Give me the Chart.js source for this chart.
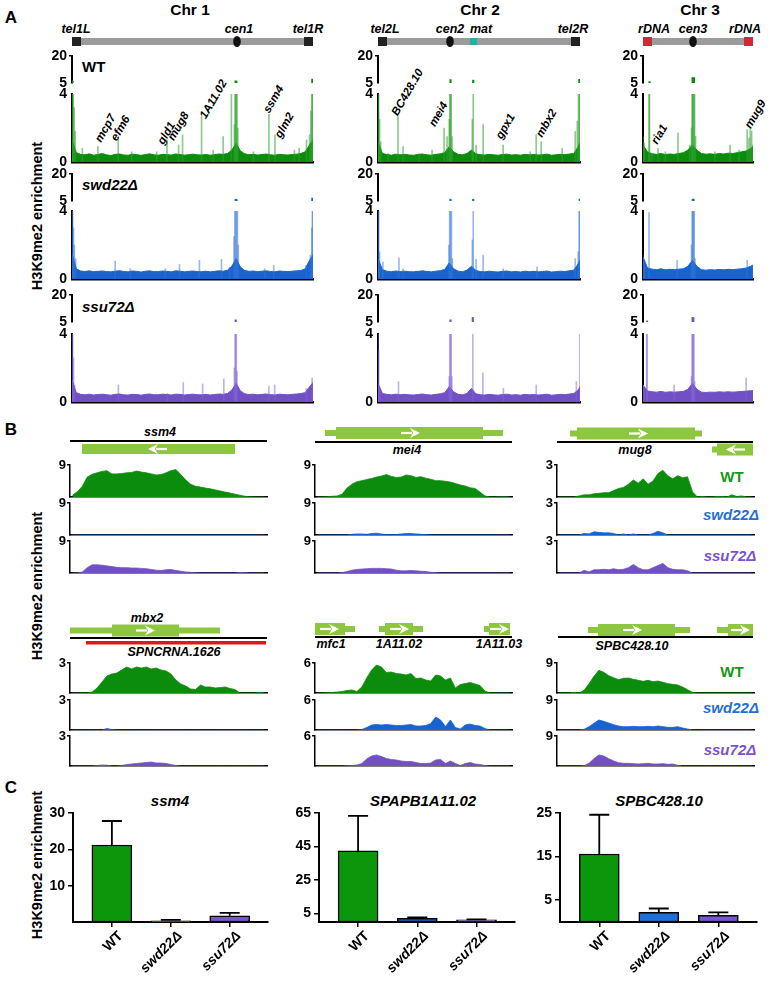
<!DOCTYPE html>
<html lang="en">
<head>
  <meta charset="UTF-8">
  <title>H3K9me2 enrichment in WT, swd22Δ and ssu72Δ</title>
  <script src="https://cdn.jsdelivr.net/npm/chart.js"></script>
  <style>
    body { margin: 0; background: #fff; }
    #page { position: relative; width: 772px; height: 981px; overflow: hidden; background: #fff; }
    #page canvas { position: absolute; }
    #overlay { position: absolute; left: 0; top: 0; }
    #overlay text { font-family: 'Liberation Sans', Arial, sans-serif; font-weight: bold; }
  </style>
</head>
<body>
  <div id="page">
    <svg id="overlay" width="772" height="981"></svg>
  </div>

  <script>
    // ---------- A: genome-wide ChIP-chip tracks ----------
    const chromNames = ['Chr 1', 'Chr 2', 'Chr 3'];
    const chromLengthKb = [5580, 4540, 2450];
    const BIN_KB = 100; // baseline arrays: one value every 100 kb

    const wtChr1Base = [1.3, 0.55, 0.45, 0.42, 0.48, 0.4, 0.44, 0.5, 0.42, 0.38, 0.45, 0.47, 0.41, 0.4, 0.46, 0.43, 0.39, 0.44, 0.48, 0.42, 0.4, 0.45, 0.43, 0.41, 0.47, 0.44, 0.4, 0.43, 0.46, 0.42, 0.41, 0.44, 0.4, 0.43, 0.47, 0.45, 0.5, 0.7, 1.1, 0.65, 0.48, 0.43, 0.45, 0.41, 0.44, 0.47, 0.42, 0.4, 0.45, 0.43, 0.41, 0.44, 0.46, 0.5, 0.6, 1.0, 1.4];
    const wtChr2Base = [1.2, 0.5, 0.44, 0.4, 0.46, 0.42, 0.45, 0.41, 0.4, 0.44, 0.47, 0.42, 0.4, 0.45, 0.48, 0.55, 0.9, 0.6, 0.45, 0.42, 0.5, 0.7, 0.48, 0.43, 0.41, 0.45, 0.42, 0.4, 0.44, 0.46, 0.41, 0.43, 0.4, 0.45, 0.42, 0.44, 0.41, 0.43, 0.46, 0.4, 0.42, 0.45, 0.43, 0.47, 0.5, 0.9, 1.5];
    const wtChr3Base = [1.0, 0.6, 0.48, 0.45, 0.5, 0.44, 0.47, 0.45, 0.5, 0.55, 0.7, 1.0, 0.7, 0.5, 0.46, 0.48, 0.45, 0.5, 0.47, 0.52, 0.5, 0.55, 0.6, 0.65, 0.8, 1.0];
    const swdChr1Base = [1.5, 0.6, 0.47, 0.44, 0.48, 0.43, 0.45, 0.47, 0.44, 0.42, 0.46, 0.49, 0.44, 0.42, 0.47, 0.45, 0.41, 0.46, 0.48, 0.43, 0.44, 0.47, 0.45, 0.42, 0.48, 0.46, 0.42, 0.45, 0.47, 0.44, 0.43, 0.46, 0.42, 0.45, 0.48, 0.46, 0.52, 0.75, 1.2, 0.7, 0.5, 0.45, 0.47, 0.43, 0.46, 0.48, 0.44, 0.42, 0.47, 0.45, 0.43, 0.46, 0.48, 0.5, 0.6, 1.1, 1.5];
    const swdChr2Base = [1.2, 0.55, 0.46, 0.43, 0.47, 0.44, 0.46, 0.43, 0.42, 0.45, 0.48, 0.44, 0.42, 0.46, 0.49, 0.56, 0.95, 0.6, 0.46, 0.43, 0.52, 0.75, 0.5, 0.44, 0.42, 0.46, 0.43, 0.41, 0.45, 0.47, 0.42, 0.44, 0.41, 0.46, 0.43, 0.45, 0.42, 0.44, 0.47, 0.41, 0.43, 0.46, 0.44, 0.48, 0.52, 0.9, 1.4];
    const swdChr3Base = [1.3, 0.65, 0.58, 0.55, 0.6, 0.54, 0.57, 0.55, 0.58, 0.6, 0.75, 1.1, 0.75, 0.55, 0.52, 0.55, 0.53, 0.56, 0.54, 0.57, 0.55, 0.58, 0.6, 0.65, 0.75, 0.9];
    const ssuChr1Base = [1.3, 0.55, 0.45, 0.42, 0.46, 0.41, 0.44, 0.46, 0.43, 0.4, 0.45, 0.47, 0.42, 0.41, 0.45, 0.44, 0.4, 0.45, 0.47, 0.42, 0.43, 0.46, 0.44, 0.41, 0.46, 0.45, 0.41, 0.44, 0.46, 0.43, 0.42, 0.45, 0.41, 0.44, 0.47, 0.45, 0.5, 0.7, 1.1, 0.65, 0.48, 0.44, 0.46, 0.42, 0.45, 0.47, 0.43, 0.41, 0.46, 0.44, 0.42, 0.45, 0.47, 0.5, 0.55, 0.9, 1.2];
    const ssuChr2Base = [1.1, 0.5, 0.45, 0.42, 0.46, 0.43, 0.45, 0.42, 0.41, 0.44, 0.47, 0.43, 0.41, 0.45, 0.48, 0.55, 0.9, 0.6, 0.45, 0.42, 0.5, 0.8, 0.48, 0.43, 0.41, 0.45, 0.42, 0.4, 0.44, 0.46, 0.41, 0.43, 0.4, 0.45, 0.42, 0.44, 0.41, 0.43, 0.46, 0.4, 0.42, 0.45, 0.43, 0.47, 0.5, 0.7, 1.2];
    const ssuChr3Base = [1.0, 0.65, 0.6, 0.58, 0.62, 0.57, 0.6, 0.58, 0.6, 0.62, 0.75, 1.1, 0.75, 0.58, 0.56, 0.58, 0.57, 0.6, 0.58, 0.6, 0.58, 0.6, 0.62, 0.64, 0.66, 0.7];

    // sharp peaks: [position kb, enrichment]
    const wtChr1Peaks = [[0, 6.2], [12, 6.0], [30, 5.0], [50, 3.2], [75, 1.8], [240, 0.8], [600, 0.9], [1070, 1.3], [1380, 0.6], [1960, 0.6], [2200, 1.3], [2470, 1.0], [2560, 1.6], [3000, 2.7], [3270, 0.7], [3500, 1.5], [3690, 4.2], [3760, 2.2], [3775, 4.6], [3790, 6.2], [3805, 6.0], [3820, 4.4], [3840, 2.0], [4200, 0.6], [4560, 2.8], [4700, 1.6], [5150, 0.7], [5260, 0.8], [5430, 1.3], [5500, 1.6], [5530, 3.0], [5550, 5.0], [5565, 7.2], [5580, 6.5]];
    const wtChr2Peaks = [[0, 4.6], [15, 4.2], [35, 2.5], [60, 1.2], [225, 0.5], [450, 2.7], [563, 0.9], [920, 0.5], [1215, 0.7], [1485, 2.0], [1553, 1.5], [1600, 2.5], [1615, 4.5], [1630, 6.9], [1645, 4.5], [1665, 1.5], [2120, 2.5], [2140, 6.6], [2205, 1.0], [2363, 2.2], [2813, 1.0], [3420, 0.6], [3555, 1.6], [3668, 1.2], [4140, 0.8], [4433, 1.8], [4480, 2.4], [4505, 4.3], [4525, 7.0], [4540, 5.0]];
    const wtChr3Peaks = [[0, 1.5], [25, 1.1], [134, 4.1], [145, 5.8], [200, 0.5], [335, 0.8], [500, 0.6], [780, 1.7], [1040, 1.0], [1080, 2.0], [1095, 4.5], [1105, 8.0], [1120, 4.6], [1135, 8.0], [1150, 4.3], [1170, 1.5], [1600, 0.6], [1940, 1.0], [2140, 0.7], [2320, 1.9], [2360, 1.4], [2390, 2.0], [2420, 1.8], [2445, 1.0]];
    const swdChr1Peaks = [[0, 4.6], [15, 4.5], [35, 3.0], [55, 2.0], [85, 1.2], [1000, 1.05], [1350, 0.6], [2160, 0.6], [2490, 0.85], [2950, 1.1], [3460, 1.15], [3650, 0.7], [3750, 2.5], [3770, 4.5], [3790, 6.0], [3810, 5.8], [3830, 4.5], [3850, 2.0], [4460, 0.6], [4670, 0.8], [5420, 0.8], [5520, 1.4], [5550, 3.0], [5565, 6.6], [5580, 5.0]];
    const swdChr2Peaks = [[0, 4.6], [15, 4.3], [35, 1.6], [110, 1.0], [470, 1.25], [563, 0.6], [1595, 2.0], [1610, 4.5], [1630, 6.0], [1650, 4.5], [1670, 1.2], [2120, 2.3], [2140, 6.0], [2205, 1.15], [2363, 1.4], [2813, 0.6], [3575, 0.7], [4433, 1.2], [4500, 1.6], [4520, 4.3], [4535, 6.0]];
    const swdChr3Peaks = [[0, 1.4], [30, 1.0], [134, 3.9], [760, 1.1], [1080, 2.0], [1095, 4.5], [1110, 6.0], [1125, 6.0], [1140, 4.4], [1160, 1.2], [2320, 1.1], [2440, 0.8]];
    const ssuChr1Peaks = [[0, 4.5], [15, 4.3], [35, 2.6], [60, 1.0], [1074, 1.0], [2210, 0.5], [2576, 1.15], [3025, 1.06], [3515, 1.36], [3760, 2.0], [3775, 4.5], [3790, 6.2], [3805, 4.5], [3820, 1.8], [4558, 0.9], [4693, 1.0], [5424, 0.8], [5560, 1.4]];
    const ssuChr2Peaks = [[0, 4.4], [15, 3.0], [40, 0.8], [461, 1.2], [1600, 1.5], [1615, 4.5], [1630, 6.2], [1645, 4.5], [1660, 1.5], [2131, 7.5], [2357, 1.7], [2818, 0.8], [3556, 1.0], [4458, 1.2], [4535, 4.2]];
    const ssuChr3Peaks = [[0, 1.0], [82, 4.0], [90, 5.6], [694, 1.0], [1080, 1.5], [1095, 4.5], [1105, 7.5], [1120, 7.5], [1135, 4.5], [1150, 1.2], [2297, 1.4]];

    // ---------- B: close-up profiles (40 bins per locus) ----------
    const ssm4Wt = [0.5, 1.5, 3.0, 5.6, 6.4, 6.8, 7.2, 7.4, 6.5, 6.5, 6.6, 6.8, 6.9, 7.3, 7.0, 6.8, 6.5, 6.2, 6.3, 6.8, 7.4, 7.7, 6.3, 4.8, 3.6, 3.0, 2.8, 2.5, 2.3, 2.0, 1.7, 1.4, 1.1, 0.8, 0.5, 0.2, 0.05, 0, 0, 0];
    const ssm4Swd = [0, 0, 0, 0, 0, 0, 0, 0, 0, 0, 0, 0, 0, 0, 0, 0, 0, 0, 0, 0, 0, 0, 0, 0, 0, 0, 0, 0, 0, 0, 0, 0, 0, 0, 0, 0, 0, 0, 0, 0];
    const ssm4Ssu = [0, 0, 0.3, 1.5, 2.3, 2.3, 2.2, 2.0, 1.8, 1.6, 1.5, 1.5, 1.4, 1.4, 1.3, 1.2, 1.0, 0.8, 0.7, 0.9, 1.0, 0.7, 0.5, 0.3, 0.15, 0.05, 0, 0, 0, 0, 0, 0, 0, 0, 0.15, 0.1, 0, 0, 0, 0];
    const mei4Wt = [0, 0, 0.1, 0.2, 0.3, 0.8, 2.5, 3.6, 4.3, 4.6, 4.9, 5.2, 5.6, 5.9, 6.3, 5.8, 5.5, 5.6, 6.2, 6.0, 5.5, 5.7, 5.3, 5.0, 4.6, 4.6, 4.4, 4.2, 3.8, 3.4, 3.1, 2.6, 2.4, 1.4, 0.3, 0, 0, 0.05, 0.05, 0];
    const mei4Swd = [0, 0, 0, 0, 0, 0, 0, 0.2, 0.3, 0.3, 0.2, 0.4, 0.5, 0.3, 0.1, 0.1, 0.1, 0.3, 0.4, 0.4, 0.3, 0.2, 0.1, 0, 0, 0, 0, 0, 0, 0, 0, 0, 0, 0, 0, 0, 0, 0, 0, 0];
    const mei4Ssu = [0, 0, 0, 0, 0, 0.1, 0.4, 0.8, 1.0, 1.1, 1.2, 1.3, 1.3, 1.3, 1.2, 1.1, 0.8, 0.6, 0.6, 0.7, 0.6, 0.5, 0.4, 0.2, 0.1, 0, 0, 0, 0, 0, 0, 0, 0, 0, 0, 0, 0, 0, 0, 0];
    const mug8Wt = [0, 0, 0, 0, 0.1, 0.2, 0.2, 0.3, 0.35, 0.4, 0.4, 0.6, 0.8, 0.9, 1.2, 1.6, 1.3, 1.7, 1.2, 1.5, 2.2, 2.5, 2.0, 1.7, 2.0, 1.8, 1.9, 0.5, 0, 0.05, 0, 0, 0.05, 0.05, 0, 0.2, 0.05, 0.1, 0, 0];
    const mug8Swd = [0, 0, 0, 0, 0, 0.15, 0.1, 0.3, 0.25, 0.2, 0.2, 0.15, 0, 0.1, 0, 0.1, 0, 0, 0, 0.15, 0.35, 0.2, 0, 0, 0, 0, 0, 0, 0, 0, 0, 0, 0, 0, 0, 0, 0, 0, 0, 0];
    const mug8Ssu = [0, 0, 0, 0, 0, 0.25, 0.1, 0.3, 0.3, 0.35, 0.3, 0.4, 0.3, 0.35, 0.5, 0.8, 0.5, 0.3, 0.3, 0.5, 0.7, 0.9, 0.5, 0.35, 0.3, 0.3, 0.2, 0, 0, 0, 0, 0, 0, 0, 0, 0, 0, 0, 0, 0];
    const mbx2Wt = [0, 0, 0, 0, 0.1, 0.5, 1.1, 1.7, 1.9, 2.0, 2.3, 2.6, 2.4, 2.6, 2.5, 2.6, 2.4, 2.5, 2.3, 2.2, 1.9, 1.3, 0.9, 0.7, 0.4, 0.35, 0.8, 0.6, 0.6, 0.5, 0.55, 0.6, 0.45, 0.35, 0, 0, 0, 0, 0.05, 0];
    const mbx2Swd = [0, 0, 0, 0, 0, 0, 0, 0.15, 0.05, 0, 0, 0, 0, 0, 0, 0, 0, 0, 0, 0, 0, 0, 0, 0, 0, 0, 0, 0, 0, 0, 0, 0, 0, 0, 0, 0, 0, 0, 0, 0];
    const mbx2Ssu = [0, 0, 0, 0, 0, 0.05, 0.1, 0.08, 0, 0, 0.05, 0.15, 0.2, 0.25, 0.3, 0.35, 0.4, 0.3, 0.3, 0.25, 0.15, 0.05, 0, 0, 0, 0, 0, 0, 0, 0, 0, 0, 0, 0, 0, 0, 0, 0, 0, 0];
    const a1102Wt = [0, 0, 0.05, 0.1, 0.2, 0.3, 0.5, 0.6, 0.3, 1.2, 3.0, 4.6, 5.6, 5.2, 4.1, 4.2, 3.9, 3.8, 3.6, 3.9, 2.9, 3.0, 2.6, 2.4, 3.6, 3.4, 2.6, 3.0, 1.0, 1.7, 1.9, 2.1, 1.8, 1.5, 0.4, 0, 0, 0, 0, 0];
    const a1102Swd = [0, 0, 0, 0, 0, 0, 0, 0, 0, 0.1, 0.5, 1.0, 1.1, 1.0, 1.1, 1.0, 0.9, 0.9, 1.0, 1.1, 0.8, 0.8, 0.9, 1.3, 2.6, 2.0, 0.7, 2.0, 0.5, 0.2, 1.0, 1.2, 0.9, 0.8, 0.3, 0, 0, 0, 0, 0];
    const a1102Ssu = [0, 0, 0, 0, 0, 0, 0.05, 0.1, 0.2, 0.5, 1.4, 2.0, 2.2, 1.9, 1.5, 1.3, 1.2, 1.0, 0.9, 0.9, 0.7, 0.5, 0.5, 0.6, 1.2, 1.3, 0.5, 1.0, 0.5, 0.1, 0.5, 0.7, 0.4, 0.3, 0.1, 0, 0, 0, 0, 0];
    const b42810Wt = [0, 0, 0, 0.2, 0, 0.8, 2.8, 5.0, 6.8, 6.2, 5.2, 4.6, 4.0, 4.4, 4.5, 4.1, 3.8, 3.5, 3.8, 3.4, 3.6, 3.2, 2.8, 2.6, 2.4, 1.8, 1.0, 0.2, 0, 0, 0, 0, 0, 0, 0, 0, 0, 0, 0, 0];
    const b42810Swd = [0, 0, 0, 0, 0, 0.2, 1.0, 2.0, 3.0, 2.6, 2.1, 1.6, 1.2, 1.0, 1.0, 1.1, 1.0, 1.0, 1.1, 1.0, 1.2, 1.0, 0.8, 0.8, 1.0, 0.6, 0.3, 0, 0, 0, 0, 0, 0, 0, 0, 0, 0, 0, 0, 0];
    const b42810Ssu = [0, 0, 0, 0, 0, 0.1, 0.8, 2.2, 3.3, 3.0, 2.2, 1.5, 1.0, 0.8, 0.8, 0.7, 0.6, 0.7, 0.8, 0.6, 0.6, 0.7, 0.5, 0.6, 0.2, 0, 0, 0, 0, 0, 0, 0, 0, 0, 0, 0, 0, 0, 0, 0];
    const zoomMax = [9, 9, 3, 3, 6, 9];

    // ---------- C: ChIP-qPCR ----------
    const strains = ['WT', 'swd22Δ', 'ssu72Δ'];
    const qpcrGenes = ['ssm4', 'SPAPB1A11.02', 'SPBC428.10'];
    const ssm4Mean = [21.2, 0.35, 1.7];
    const ssm4Sem = [6.6, 0.25, 0.8];
    const a1102Mean = [42.4, 2.2, 1.25];
    const a1102Sem = [20.9, 0.6, 0.35];
    const b42810Mean = [15.6, 2.2, 1.55];
    const b42810Sem = [9.0, 0.9, 0.65];
    const qpcrMax = [30, 65, 25];
    const qpcrTicks = [[10, 20, 30], [5, 25, 45, 65], [5, 15, 25]];

    // ---------- styles / layout ----------
    const strainStyle = [
      { fill: '#0c8c0c', spike: 'rgba(45,160,45,0.55)', text: '#179617', bar: '#0b960b' },
      { fill: '#1763cf', spike: 'rgba(50,115,215,0.5)', text: '#1f6fd6', bar: '#1f6fd9' },
      { fill: '#7050c4', spike: 'rgba(130,100,215,0.5)', text: '#7a52cc', bar: '#7b55d0' }
    ];
    const chromLeft = [72, 378, 643];
    const chromWidth = [241, 202, 110];
    const upperTop = [56, 174, 295];
    const lowerTop = [94, 211, 334];
    const UPPER_H = 27, LOWER_H = 68;

    const zoomLeft = [70, 315, 557];
    const zoomWidth = 197;
    const zoomTops = [[465, 503, 541], [663, 700, 736]];
    const zoomH = [32, 30];

    const qpcrLeft = [73, 319, 560];
    const qpcrWidth = [195, 196, 197];
    const QPCR_TOP = 813, QPCR_H = 109;

    Chart.defaults.font.family = "'Liberation Sans', Arial, sans-serif";
    Chart.defaults.color = '#000';

    const page = document.getElementById('page');
    function addCanvas(left, top, width, height) {
      const c = document.createElement('canvas');
      c.width = width; c.height = height;
      c.style.left = left + 'px'; c.style.top = top + 'px';
      c.style.width = width + 'px'; c.style.height = height + 'px';
      page.appendChild(c);
      return c.getContext('2d');
    }

    function baseOptions(pad, x, y) {
      return {
        responsive: false, animation: false, devicePixelRatio: 1, events: [],
        layout: { padding: Object.assign({ left: 0, right: 0, top: 0, bottom: 0 }, pad) },
        plugins: { legend: { display: false }, tooltip: { enabled: false } },
        scales: { x, y }
      };
    }

    function xLine(min, max, borderWidth) {
      return {
        type: 'linear', min, max, offset: false,
        grid: { display: false, offset: false }, ticks: { display: false },
        border: { display: borderWidth > 0, color: '#000', width: borderWidth },
        afterFit: s => { s.height = 0; s.paddingLeft = 0; s.paddingRight = 0; }
      };
    }

    function yAxis(min, max, values, marked, o) {
      return {
        min, max,
        afterBuildTicks: s => { s.ticks = values.map(v => ({ value: v })); },
        grid: {
          drawOnChartArea: false, drawTicks: true, tickLength: o.tick, lineWidth: 1.5,
          color: c => (c.tick && marked.includes(c.tick.value)) ? '#000' : 'rgba(0,0,0,0)'
        },
        border: { display: true, color: '#000', width: o.border },
        ticks: { color: '#000', padding: o.pad, autoSkip: false, font: { size: o.size, weight: 'bold' } },
        afterFit: s => { s.width = o.width; s.paddingTop = 0; s.paddingBottom = 0; }
      };
    }

    // A: one genome track = lower (0-4) + upper (5-20) part of a broken axis
    function genomeTrack(col, row, base, peaks) {
      const st = strainStyle[row];
      const len = chromLengthKb[col];
      const x0 = chromLeft[col], w = chromWidth[col];
      const AW = 28, R = 3, PAD = 9;
      const baseData = base.map((v, i) => ({ x: i * BIN_KB, y: v }));
      const peakData = peaks.map(p => ({ x: p[0], y: p[1] }));

      new Chart(addCanvas(x0 - AW, lowerTop[row] - PAD, w + AW + R, LOWER_H + 2 * PAD), {
        type: 'bar',
        data: { datasets: [
          { data: peakData, backgroundColor: st.spike, barThickness: 1, clip: 0 },
          { type: 'line', data: baseData, fill: 'origin', backgroundColor: st.fill, borderColor: st.fill,
            borderWidth: 1, pointRadius: 0, tension: 0, clip: 0 }
        ] },
        options: baseOptions({ top: PAD, right: R, bottom: PAD }, xLine(0, len, 2.5),
          yAxis(0, 4, [0, 4], [], { tick: 3, border: 2, pad: 2, size: 14, width: AW }))
      });

      new Chart(addCanvas(x0 - AW, upperTop[row] - PAD, w + AW + R, UPPER_H + 2 * PAD), {
        type: 'bar',
        data: { datasets: [
          { data: peakData.filter(p => p.y > 5), backgroundColor: st.fill, barThickness: 1.5, clip: 0 }
        ] },
        options: baseOptions({ top: PAD, right: R, bottom: PAD }, Object.assign(xLine(0, len, 0), { display: false }),
          yAxis(5, 20, [5, 20], [20], { tick: 3, border: 2, pad: 2, size: 14, width: AW }))
      });
    }

    const genomeBase = [[wtChr1Base, wtChr2Base, wtChr3Base], [swdChr1Base, swdChr2Base, swdChr3Base], [ssuChr1Base, ssuChr2Base, ssuChr3Base]];
    const genomePeaks = [[wtChr1Peaks, wtChr2Peaks, wtChr3Peaks], [swdChr1Peaks, swdChr2Peaks, swdChr3Peaks], [ssuChr1Peaks, ssuChr2Peaks, ssuChr3Peaks]];
    for (let row = 0; row < 3; row++) {
      for (let col = 0; col < 3; col++) genomeTrack(col, row, genomeBase[row][col], genomePeaks[row][col]);
    }

    // B: close-up profiles
    function zoomTrack(locus, strain, values) {
      const block = Math.floor(locus / 3), col = locus % 3;
      const x0 = zoomLeft[col], top = zoomTops[block][strain], h = zoomH[block];
      const AW = 14, R = 2, PAD = 9, max = zoomMax[locus];
      const st = strainStyle[strain];
      new Chart(addCanvas(x0 - AW, top - PAD, zoomWidth + AW + R, h + PAD + 3), {
        type: 'line',
        data: { datasets: [{
          data: values.map((v, i) => ({ x: i, y: v })), fill: 'origin',
          backgroundColor: st.fill, borderColor: st.fill, borderWidth: 0.8, pointRadius: 0, tension: 0, clip: 0
        }] },
        options: baseOptions({ top: PAD, right: R, bottom: 3 }, xLine(-0.5, values.length - 0.5, 1.5),
          yAxis(0, max, [max], [max], { tick: 3, border: 1.5, pad: 1, size: 13, width: AW }))
      });
    }

    const zoomProfiles = [
      [ssm4Wt, ssm4Swd, ssm4Ssu], [mei4Wt, mei4Swd, mei4Ssu], [mug8Wt, mug8Swd, mug8Ssu],
      [mbx2Wt, mbx2Swd, mbx2Ssu], [a1102Wt, a1102Swd, a1102Ssu], [b42810Wt, b42810Swd, b42810Ssu]
    ];
    zoomProfiles.forEach((set, locus) => set.forEach((vals, strain) => zoomTrack(locus, strain, vals)));

    // C: bar charts with SEM bars
    const errorBars = {
      id: 'errorBars',
      afterDatasetsDraw(chart, args, opts) {
        const { ctx } = chart;
        const y = chart.scales.y;
        const data = chart.data.datasets[0].data;
        ctx.save();
        ctx.strokeStyle = '#000';
        ctx.lineWidth = 1.8;
        chart.getDatasetMeta(0).data.forEach((bar, i) => {
          const top = y.getPixelForValue(data[i].y + opts.sem[i]);
          ctx.beginPath();
          ctx.moveTo(bar.x, bar.y); ctx.lineTo(bar.x, top);
          ctx.moveTo(bar.x - 10, top); ctx.lineTo(bar.x + 10, top);
          ctx.stroke();
        });
        ctx.restore();
      }
    };

    function qpcrChart(col, means, sems) {
      const AW = 40, R = 6, T = 10, XH = 58;
      const options = baseOptions({ top: T, right: R, bottom: 0 },
        {
          type: 'linear', min: -0.66, max: 2.65, offset: false,
          afterBuildTicks: s => { s.ticks = strains.map((_, i) => ({ value: i })); },
          grid: { drawOnChartArea: false, drawTicks: true, tickLength: 5, color: '#000', lineWidth: 1.5, offset: false },
          border: { display: true, color: '#000', width: 2 },
          ticks: {
            callback: v => strains[v], minRotation: 45, maxRotation: 45, autoSkip: false, padding: 1, labelOffset: 9,
            color: '#000', font: c => ({ size: 14, weight: 'bold', style: c.index === 0 ? 'normal' : 'italic' })
          },
          afterFit: s => { s.height = XH; s.paddingLeft = 0; s.paddingRight = 0; }
        },
        yAxis(0, qpcrMax[col], qpcrTicks[col], qpcrTicks[col], { tick: 5, border: 2, pad: 3, size: 14, width: AW }));
      options.plugins.errorBars = { sem: sems };
      new Chart(addCanvas(qpcrLeft[col] - AW, QPCR_TOP - T, qpcrWidth[col] + AW + R, QPCR_H + T + XH), {
        type: 'bar',
        data: { datasets: [{
          data: means.map((v, i) => ({ x: i, y: v })),
          backgroundColor: strainStyle.map(s => s.bar), borderColor: '#000', borderWidth: 1.5,
          borderSkipped: false, barThickness: 40
        }] },
        options,
        plugins: [errorBars]
      });
    }
    qpcrChart(0, ssm4Mean, ssm4Sem);
    qpcrChart(1, a1102Mean, a1102Sem);
    qpcrChart(2, b42810Mean, b42810Sem);

    // ---------- annotations: chromosome maps, gene models, labels ----------
    const svg = document.getElementById('overlay');
    const NS = 'http://www.w3.org/2000/svg';
    function svgEl(tag, attrs, text) {
      const e = document.createElementNS(NS, tag);
      for (const k in attrs) e.setAttribute(k, attrs[k]);
      if (text != null) e.textContent = text;
      svg.appendChild(e);
      return e;
    }
    function txt(x, y, s, size, extra) {
      return svgEl('text', Object.assign({ x, y, 'font-size': size, 'text-anchor': 'middle', fill: '#000' }, extra || {}), s);
    }
    function rect(x, y, w, h, fill) { svgEl('rect', { x, y, width: w, height: h, fill }); }
    const ital = { 'font-style': 'italic' };

    // panel letters and axis titles
    txt(11, 23, 'A', 17); txt(11, 435, 'B', 17); txt(11, 793, 'C', 17);
    [216, 586, 865].forEach(cy => txt(0, 0, 'H3K9me2 enrichment', 14.5, { transform: `translate(42,${cy}) rotate(-90)` }));

    // chromosome maps
    const GRAY = '#9b9b9b';
    [190, 480, 700].forEach((cx, i) => txt(cx, 15, chromNames[i], 15.5));
    rect(72, 38, 241, 7, GRAY); rect(72, 37, 9, 9, '#222'); rect(304, 37, 9, 9, '#222');
    rect(378, 38, 202, 7, GRAY); rect(378, 37, 9, 9, '#222'); rect(571, 37, 9, 9, '#222'); rect(470, 38, 7, 7, '#1fb3a6');
    rect(643, 38, 110, 7, GRAY); rect(643, 37, 9, 9, '#d02a3a'); rect(744, 37, 9, 9, '#d02a3a');
    [237, 450, 693].forEach(cx => svgEl('ellipse', { cx, cy: 41.5, rx: 3.8, ry: 5.5, fill: '#111' }));
    [['tel1L', 76], ['cen1', 239], ['tel1R', 308], ['tel2L', 385], ['cen2', 450], ['mat', 481], ['tel2R', 573],
     ['rDNA', 654], ['cen3', 693], ['rDNA', 745]].forEach(([s, x]) => txt(x, 33, s, 12.5, ital));

    // strain names in A
    txt(82, 72, 'WT', 15, { 'text-anchor': 'start' });
    txt(82, 190, 'swd22Δ', 15, Object.assign({ 'text-anchor': 'start' }, ital));
    txt(82, 312, 'ssu72Δ', 15, Object.assign({ 'text-anchor': 'start' }, ital));

    // gene names over WT peaks
    [['mcp7', 105, 128], ['efm6', 120, 128], ['gld1', 166, 133], ['mug8', 178, 126], ['1A11.02', 213, 99],
     ['ssm4', 273, 99], ['glm2', 284, 125], ['BC428.10', 407, 92], ['mei4', 438, 114], ['gpx1', 505, 126],
     ['mbx2', 546, 123], ['ria1', 659, 134], ['mug9', 755, 114]].forEach(([s, x, y]) =>
      txt(0, 0, s, 11.5, Object.assign({ transform: `translate(${x},${y}) rotate(-60)`, dy: '0.35em' }, ital)));

    // gene models in B
    const GENE = '#8dc63f';
    function arrow(cx, cy, dir) {
      svgEl('path', { d: `M${cx - 9 * dir},${cy} L${cx + 2 * dir},${cy}`, stroke: '#fff', 'stroke-width': 2.2 });
      svgEl('path', { d: `M${cx + 10 * dir},${cy} L${cx},${cy - 5} L${cx + 3 * dir},${cy} L${cx},${cy + 5} Z`, fill: '#fff' });
    }
    function geneModel(u1, u2, c1, c2, cy, dir, ax, half) {
      const hh = half || 6;
      if (u2 > u1) rect(u1, cy - 3, u2 - u1, 6, GENE);
      rect(c1, cy - hh, c2 - c1, 2 * hh, GENE);
      arrow(ax != null ? ax : (c1 + c2) / 2, cy, dir);
    }
    function axisLine(x1, x2, y) { rect(x1, y - 1, x2 - x1, 2, '#000'); }

    axisLine(70, 267, 441); geneModel(82, 82, 82, 235, 449, -1, 158, 5);
    axisLine(315, 512, 442); geneModel(325, 503, 336, 483, 433, 1, 410);
    axisLine(557, 753, 442); geneModel(570, 702, 577, 695, 433.5, 1, 638); geneModel(712, 753, 717, 753, 449.5, -1, 736);
    geneModel(70, 220, 112, 179, 630.5, 1, 145); axisLine(70, 267, 638); rect(86, 641, 180, 3.5, '#e4161b');
    axisLine(315, 512, 637); geneModel(315, 355, 315, 345, 629, 1, 329); geneModel(379, 423, 385, 413, 629, 1, 399);
    geneModel(484, 510, 489, 510, 629, 1, 499);
    axisLine(558, 753, 637); geneModel(588, 690, 598, 675, 630, 1, 632); geneModel(717, 753, 728, 753, 630, 1, 740);

    [['ssm4', 160, 436], ['mei4', 407, 454], ['mug8', 635, 454], ['mbx2', 147, 622], ['SPNCRNA.1626', 174, 656],
     ['mfc1', 331, 648], ['1A11.02', 399, 648], ['1A11.03', 499, 648], ['SPBC428.10', 632, 650]].forEach(([s, x, y]) =>
      txt(x, y, s, 12.5, ital));

    // strain keys in B
    [[482, 520, 561], [677, 713, 755]].forEach(ys => {
      txt(732, ys[0], 'WT', 15, { fill: strainStyle[0].text });
      txt(731, ys[1], 'swd22Δ', 15, Object.assign({ fill: strainStyle[1].text }, ital));
      txt(730, ys[2], 'ssu72Δ', 15, Object.assign({ fill: strainStyle[2].text }, ital));
    });

    // C titles
    [170, 423, 659].forEach((cx, i) => txt(cx, 806, qpcrGenes[i], 15, ital));
  </script>
</body>
</html>
